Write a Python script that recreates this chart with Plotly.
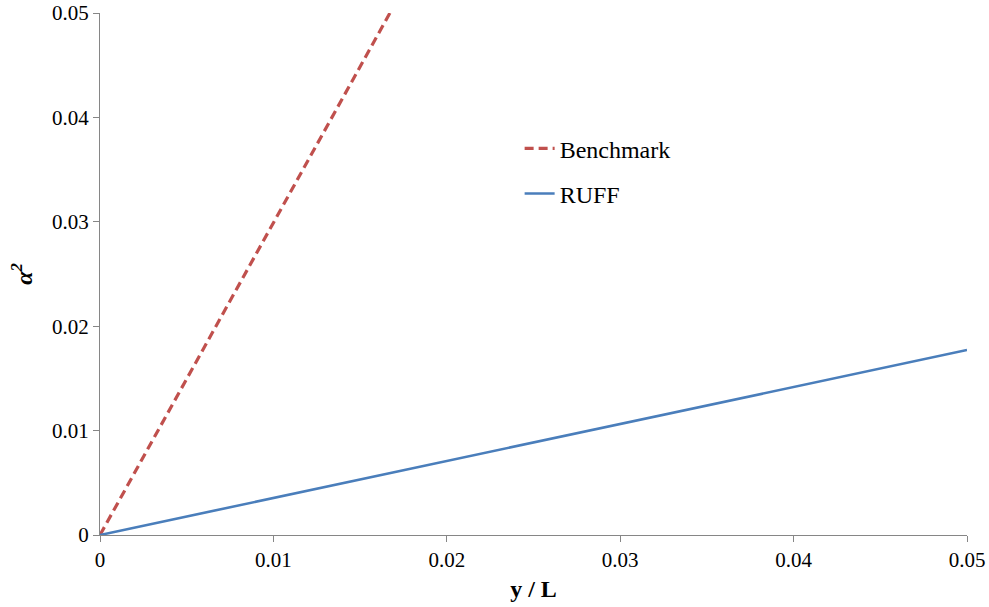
import plotly.graph_objects as go

# Data
benchmark_x = [0.0, 0.01672]
benchmark_y = [0.0, 0.05]
ruff_x = [0.0, 0.05]
ruff_y = [0.0, 0.01772]

x_ticks = [0, 0.01, 0.02, 0.03, 0.04, 0.05]
x_labels = ["0", "0.01", "0.02", "0.03", "0.04", "0.05"]
y_ticks = [0, 0.01, 0.02, 0.03, 0.04, 0.05]
y_labels = ["0", "0.01", "0.02", "0.03", "0.04", "0.05"]

font_family = "Liberation Serif, Times New Roman, serif"

fig = go.Figure()
fig.add_trace(go.Scatter(
    x=benchmark_x, y=benchmark_y, mode="lines", name="Benchmark",
    legendgroup="a",
    line=dict(color="#C0504D", width=3.2, dash="9px,5px"),
))
fig.add_trace(go.Scatter(
    x=ruff_x, y=ruff_y, mode="lines", name="RUFF",
    legendgroup="b",
    line=dict(color="#4A7EBB", width=2.6),
))

axis_common = dict(
    showgrid=False, zeroline=False, showline=True,
    linecolor="#868686", linewidth=1,
    ticks="outside", ticklen=6, tickcolor="#868686", tickwidth=1,
    tickfont=dict(family=font_family, size=21, color="black"),
    automargin=False,
)

fig.update_xaxes(
    range=[0, 0.05], tickvals=x_ticks, ticktext=x_labels,
    title=dict(text="<b>y / L</b>", font=dict(family=font_family, size=24, color="black"), standoff=8),
    **axis_common,
)
fig.update_yaxes(
    range=[0, 0.05], tickvals=y_ticks, ticktext=y_labels,
    title=dict(text="<b><i>α<sup>2</sup></i></b>", font=dict(family=font_family, size=24, color="black"), standoff=12),
    **axis_common,
)

fig.update_layout(
    width=989, height=607,
    margin=dict(l=100, r=22, t=13, b=72, autoexpand=False),
    paper_bgcolor="white", plot_bgcolor="white",
    showlegend=True,
    legend=dict(
        x=0.484, y=0.783, xanchor="left", yanchor="top",
        bgcolor="rgba(0,0,0,0)",
        font=dict(family=font_family, size=24, color="black"),
        tracegroupgap=11, traceorder="grouped",
        itemwidth=30,
    ),
)

fig.write_html(
    "out.html",
    config={"displayModeBar": False},
    post_script="document.body.style.margin='0';document.body.style.overflow='hidden';",
)
